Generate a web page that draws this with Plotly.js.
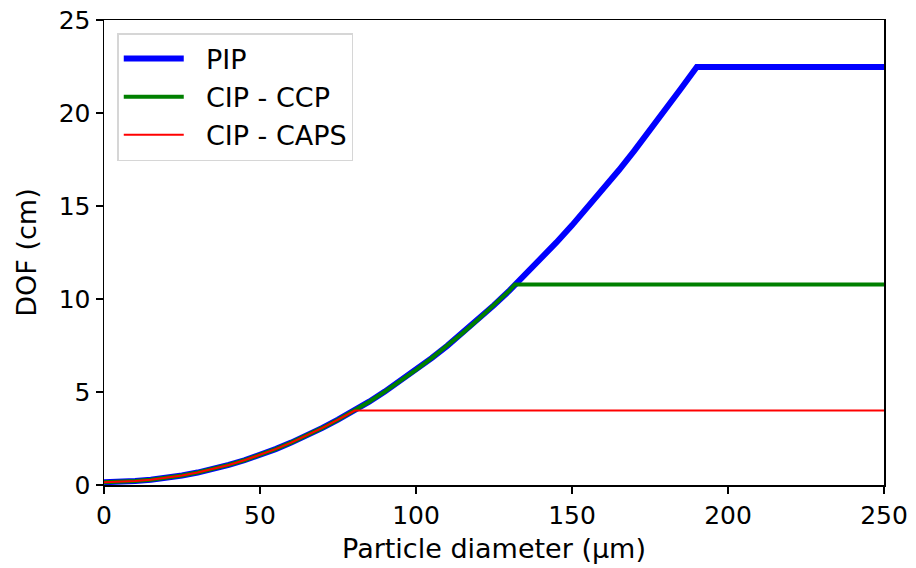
<!DOCTYPE html>
<html>
<head>
<meta charset="utf-8">
<script src="https://cdn.plot.ly/plotly-3.0.1.min.js"></script>
<style>
  html, body { margin: 0; padding: 0; background: #ffffff; }
  #chart { width: 916px; height: 568px; }
</style>
</head>
<body>
<div id="chart"></div>
<script>
// Depth of field versus particle diameter for three probes.
// Shared rising part of the curves (diameter in µm, DOF in cm).
const diamCurve = [0, 5, 10, 15, 20, 25, 30, 35, 40, 45, 50, 55, 60, 65, 70, 75, 80,
                   85, 90, 95, 100, 105, 110, 115, 120, 125, 130, 135, 140, 145, 150,
                   155, 160, 165, 170, 175, 180, 185];
const dofCurve = [0.15, 0.16, 0.21, 0.28, 0.38, 0.51, 0.67, 0.86, 1.08, 1.33, 1.61, 1.93,
                  2.28, 2.66, 3.07, 3.51, 3.98, 4.48, 5.02, 5.59, 6.19, 6.82, 7.48, 8.18,
                  8.91, 9.67, 10.46, 11.29, 12.14, 13.04, 13.96, 14.91, 15.90, 16.92,
                  17.98, 19.06, 20.18, 21.33];

// Plateau for each probe: diameter where the DOF stops growing, and its cap.
const pipCapDiam = 190,   pipCap = 22.47;
const ccpCapDiam = 131.7, ccpCap = 10.78;
const capsCapDiam = 80.4, capsCap = 4.0;
const diamMax = 250;

const seriesNames = ['PIP', 'CIP - CCP', 'CIP - CAPS'];
const xTicks = [0, 50, 100, 150, 200, 250];
const yTicks = [0, 5, 10, 15, 20, 25];

function capped(capDiam, cap) {
  const x = [], y = [];
  for (let i = 0; i < diamCurve.length; i++) {
    if (diamCurve[i] < capDiam) { x.push(diamCurve[i]); y.push(dofCurve[i]); }
  }
  x.push(capDiam, diamMax);
  y.push(cap, cap);
  return { x, y };
}

const pip = capped(pipCapDiam, pipCap);
const ccp = capped(ccpCapDiam, ccpCap);
const caps = capped(capsCapDiam, capsCap);

// Two no-break spaces push the legend labels clear of the line samples.
const pad = '\u00a0\u00a0';

const traces = [
  { x: pip.x, y: pip.y, name: pad + seriesNames[0], mode: 'lines',
    line: { color: '#0000ff', width: 6 } },
  { x: ccp.x, y: ccp.y, name: pad + seriesNames[1], mode: 'lines',
    line: { color: '#008000', width: 4 } },
  { x: caps.x, y: caps.y, name: pad + seriesNames[2], mode: 'lines',
    line: { color: '#ff0000', width: 2 } }
];

const family = 'DejaVu Sans, sans-serif';
const tickFont = { family: family, size: 25, color: '#000000' };
const labelFont = { family: family, size: 27, color: '#000000' };

const axisCommon = {
  showgrid: false, zeroline: false,
  showline: true, linecolor: '#000000', linewidth: 1.5, mirror: true,
  ticks: 'outside', ticklen: 7, tickwidth: 1.5, tickcolor: '#000000',
  tickfont: tickFont
};

const layout = {
  width: 916, height: 568,
  margin: { l: 104, r: 32, t: 20, b: 83 },
  paper_bgcolor: '#ffffff', plot_bgcolor: '#ffffff',
  font: labelFont,
  xaxis: Object.assign({}, axisCommon, {
    range: [0, diamMax], tickvals: xTicks, ticktext: xTicks.map(String),
    title: { text: 'Particle diameter (µm)', font: labelFont, standoff: 10 }
  }),
  yaxis: Object.assign({}, axisCommon, {
    range: [0, 25], tickvals: yTicks, ticktext: yTicks.map(String),
    title: { text: 'DOF (cm)', font: labelFont, standoff: 14 }
  }),
  showlegend: true,
  legend: {
    x: 0.017, y: 0.972, xanchor: 'left', yanchor: 'top',
    bgcolor: 'rgba(255,255,255,0.8)', bordercolor: '#d6d6d6', borderwidth: 1.5,
    font: labelFont, tracegroupgap: 0, itemwidth: 60
  }
};

Plotly.newPlot('chart', traces, layout, { displayModeBar: false, staticPlot: true });
</script>
</body>
</html>
